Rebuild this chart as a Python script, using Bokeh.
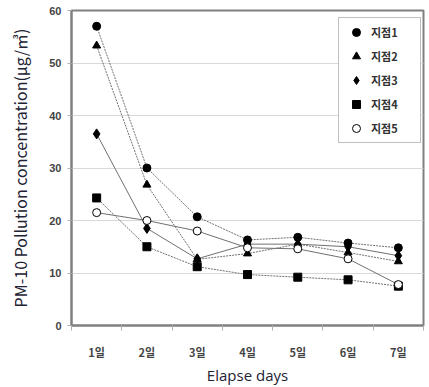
from bokeh.plotting import figure
from bokeh.models import FixedTicker, Legend, LegendItem, Range1d
from bokeh.embed import file_html
from bokeh.resources import INLINE

days = ["1일", "2일", "3일", "4일", "5일", "6일", "7일"]
series_names = ["지점1", "지점2", "지점3", "지점4", "지점5"]
site1 = [57.0, 30.0, 20.7, 16.3, 16.8, 15.7, 14.8]
site2 = [53.3, 26.8, 12.6, 13.7, 15.5, 13.9, 12.2]
site3 = [36.5, 18.5, 12.7, 15.5, 15.5, 15.0, 13.3]
site4 = [24.3, 15.0, 11.2, 9.7, 9.2, 8.7, 7.5]
site5 = [21.5, 20.0, 18.0, 14.8, 14.6, 12.7, 7.8]
y_ticks = [0, 10, 20, 30, 40, 50, 60]

xs = list(range(1, len(days) + 1))

p = figure(width=429, height=387, output_backend="svg", toolbar_location=None,
           x_range=Range1d(0.5, len(days) + 0.5), y_range=Range1d(0, 60),
           min_border_left=71, min_border_right=6, min_border_top=10, min_border_bottom=53)

p.outline_line_color = "#808080"
p.outline_line_width = 2
p.background_fill_color = "white"
p.border_fill_color = "white"

p.xgrid.grid_line_color = None
p.ygrid.grid_line_color = "#d9d9d9"
p.ygrid.grid_line_width = 1

# axes
p.xaxis.ticker = FixedTicker(ticks=xs, minor_ticks=[x - 0.5 for x in xs] + [len(days) + 0.5])
p.xaxis.major_label_overrides = {x: d for x, d in zip(xs, days)}
p.xaxis.major_tick_line_color = None
p.xaxis.minor_tick_line_color = "#b0b0b0"
p.xaxis.minor_tick_in = 0
p.xaxis.minor_tick_out = 5
p.xaxis.axis_line_color = "#808080"
p.xaxis.axis_line_width = 2
p.xaxis.major_label_text_font = "Noto Sans CJK KR"
p.xaxis.major_label_text_font_size = "11px"
p.xaxis.major_label_text_font_style = "bold"
p.xaxis.major_label_text_color = "#444444"
p.xaxis.major_label_standoff = 12
p.xaxis.axis_label = "Elapse days"
p.xaxis.axis_label_text_font = "Open Sans"
p.xaxis.axis_label_text_font_style = "normal"
p.xaxis.axis_label_text_font_size = "15px"
p.xaxis.axis_label_text_color = "#222233"
p.xaxis.axis_label_standoff = 2

p.yaxis.ticker = FixedTicker(ticks=y_ticks)
p.yaxis.minor_tick_line_color = None
p.yaxis.major_tick_in = 0
p.yaxis.major_tick_out = 4
p.yaxis.major_tick_line_color = "#b0b0b0"
p.yaxis.axis_line_color = "#808080"
p.yaxis.axis_line_width = 2
p.yaxis.major_label_text_font = "Liberation Sans"
p.yaxis.major_label_text_font_size = "11px"
p.yaxis.major_label_text_font_style = "bold"
p.yaxis.major_label_text_color = "#444444"
p.yaxis.major_label_standoff = 6
p.yaxis.axis_label = "PM-10 Pollution concentration(μg/㎥)"
p.yaxis.axis_label_text_font = "Noto Sans CJK KR"
p.yaxis.axis_label_text_font_style = "normal"
p.yaxis.axis_label_text_font_size = "16px"
p.yaxis.axis_label_text_color = "#222233"
p.yaxis.axis_label_standoff = 14

all_series = [site1, site2, site3, site4, site5]
markers = ["circle", "triangle", "diamond", "square", "circle"]
sizes = [8, 8, 10, 8, 8]
fills = ["black", "black", "black", "black", "white"]
dashes = ["2 1", "2 1", "solid", "2 1", "solid"]

items = []
for name, ys, m, s, f, d in zip(series_names, all_series, markers, sizes, fills, dashes):
    p.line(xs, ys, line_color="#707070", line_width=1, line_dash=d)
    r = p.scatter(xs, ys, marker=m, size=s, fill_color=f, line_color="black", line_width=1)
    items.append(LegendItem(label=name, renderers=[r]))

legend = Legend(items=items, location=(267, 182))
legend.border_line_color = "#808080"
legend.border_line_width = 1
legend.background_fill_color = "white"
legend.background_fill_alpha = 1
legend.label_text_font = "Noto Sans CJK KR"
legend.label_text_font_size = "11px"
legend.label_text_font_style = "bold"
legend.label_text_color = "#333333"
legend.glyph_width = 26
legend.glyph_height = 20
legend.label_height = 20
legend.label_width = 45
legend.label_standoff = 2
legend.padding = 4
legend.spacing = 4
legend.margin = 0
p.add_layout(legend)

open("out.html", "w").write(file_html(p, INLINE))
